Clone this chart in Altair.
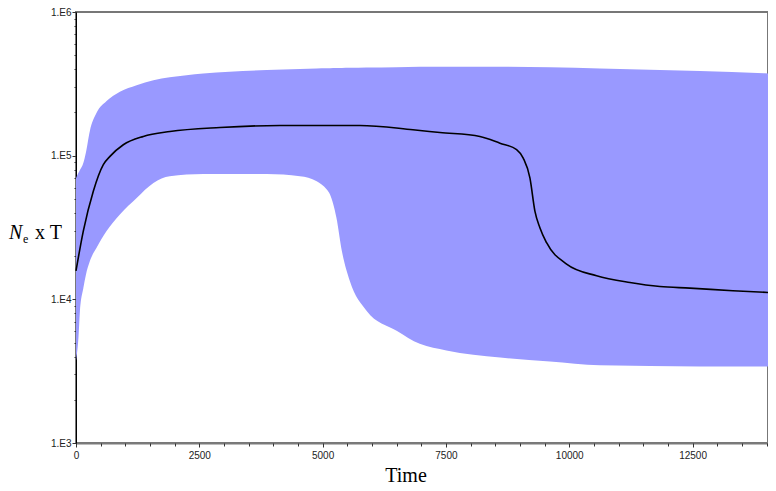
import altair as alt
import pandas as pd

# 95% HPD band (time, lower, upper)
band_time = [0, 50, 80, 150, 200, 280, 420, 620, 890, 1230, 1570, 1900, 2580, 3870,
             4540, 4880, 5080, 5150, 5280, 5390, 5550, 5890, 6500, 6970, 7510, 8600,
             9610, 10620, 12650, 14030]
band_lower = [3750, 5450, 8340, 12020, 14790, 18410, 22910, 29850, 38990, 50820, 64570,
              71940, 74650, 74470, 71940, 66370, 58340, 53700, 36980, 21730, 13460, 8340,
              6050, 4900, 4410, 3940, 3690, 3470, 3410, 3410]
band_upper = [69700, 75900, 79400, 89100, 104700, 148000, 199500, 239900, 278600, 309000,
              335000, 350800, 373300, 394500, 400900, 404600, 405500, 406400, 407400,
              408300, 409300, 411200, 413000, 415000, 415900, 415900, 413000, 404600,
              388200, 373300]

# median
median_time = [0, 148, 351, 554, 689, 959, 1365, 1905, 2919, 4135, 5757, 6831, 7378, 8189,
               8595, 8933, 9067, 9203, 9304, 9405, 9541, 9947, 10555, 11230, 11838, 12446,
               13318, 14030]
median_value = [15780, 29850, 56620, 86700, 98860, 119100, 136100, 147200, 157000, 162200,
                162200, 151400, 144900, 136100, 122200, 110200, 96160, 69980, 41110, 31480,
                24770, 17580, 14590, 13090, 12270, 11970, 11480, 11170]

x_major_ticks = [0, 2500, 5000, 7500, 10000, 12500]
x_minor_ticks = list(range(0, 14001, 500))
y_tick_values = [k * 10 ** e for e in (3, 4, 5) for k in range(1, 10)] + [1000000]

band_df = pd.DataFrame({"time": band_time, "lower": band_lower, "upper": band_upper})
median_df = pd.DataFrame({"time": median_time, "ne": median_value})

x_scale = alt.Scale(domain=[0, 14030], nice=False, zero=False)
y_scale = alt.Scale(type="log", domain=[1000, 1000000], nice=False)

x_axis = alt.Axis(
    values=x_major_ticks, format="d", orient="bottom",
    tickSize=4, title=None, grid=False, domainColor="#7a7a7a", domainWidth=2,
    tickColor="#333333", labelFont="Liberation Sans", labelFontSize=10,
    labelColor="#222222", labelPadding=3, labelFlush=False, labelOverlap=False,
)
x_axis_minor = alt.Axis(
    values=x_minor_ticks, orient="bottom", labels=False, domain=False,
    tickSize=3, title=None, grid=False, tickColor="#333333",
)
decade_test = "abs(log(datum.value)/LN10 - round(log(datum.value)/LN10)) < 0.000001"
y_axis = alt.Axis(
    values=y_tick_values,
    labelExpr="(" + decade_test + ") ? '1.E' + round(log(datum.value)/LN10) : ''",
    tickSize={"condition": {"test": decade_test, "value": 4}, "value": 2},
    title=None, grid=False, domainColor="#000000", domainWidth=1, tickColor="#333333",
    labelFont="Liberation Sans", labelFontSize=10, labelColor="#222222",
    labelPadding=1, labelFlush=False, labelOverlap=False,
)

band = alt.Chart(band_df).mark_area(color="#9999ff", opacity=1, interpolate="monotone").encode(
    x=alt.X("time:Q", scale=x_scale, axis=x_axis),
    y=alt.Y("lower:Q", scale=y_scale, axis=y_axis),
    y2="upper:Q",
)

line = alt.Chart(median_df).mark_line(color="black", strokeWidth=1.6, interpolate="monotone").encode(
    x=alt.X("time:Q", scale=x_scale, axis=x_axis_minor),
    y=alt.Y("ne:Q", scale=y_scale),
)

one = alt.Data(values=[{}])
serif = "Liberation Serif"
t_time = alt.Chart(one).mark_text(text="Time", font=serif, fontSize=20, align="center",
                                  baseline="alphabetic", color="black").encode(
    x=alt.value(330), y=alt.value(470))
t_n = alt.Chart(one).mark_text(text="N", font=serif, fontSize=20, fontStyle="italic",
                               align="left", baseline="alphabetic", color="black").encode(
    x=alt.value(-67), y=alt.value(227))
t_e = alt.Chart(one).mark_text(text="e", font=serif, fontSize=12, align="left",
                               baseline="alphabetic", color="black").encode(
    x=alt.value(-53), y=alt.value(231))
t_xt = alt.Chart(one).mark_text(text="x T", font=serif, fontSize=20, align="left",
                                baseline="alphabetic", color="black").encode(
    x=alt.value(-41), y=alt.value(227))

chart = alt.layer(band, line, t_time, t_n, t_e, t_xt).resolve_axis(
    x="independent"
).properties(
    width=692, height=431,
    autosize=alt.AutoSizeParams(type="none"),
    padding={"left": 68, "top": 4, "right": 0, "bottom": 46},
    background="white",
).configure_view(stroke="#777777", strokeWidth=2)

chart.save("out.html", embed_options={"renderer": "svg", "actions": False})
